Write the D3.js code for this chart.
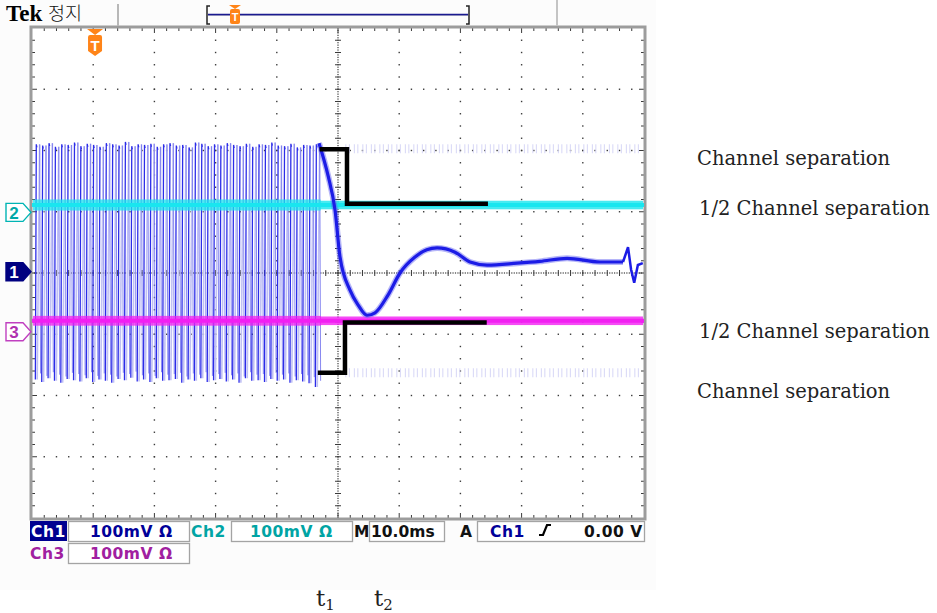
<!DOCTYPE html>
<html><head><meta charset="utf-8">
<script src="https://cdn.jsdelivr.net/npm/d3@7"></script>
<style>
html,body{margin:0;padding:0;background:#fff;}
svg{display:block;}
</style>
</head><body>
<svg id="c" width="937" height="613"></svg>
<script>
// ---------- data (time in ms, amplitude in divisions) ----------
const timeDomain = [-50, 50];          // 10 ms/div, 10 divisions
const voltDomain = [-4, 4];            // 8 divisions
const oscStart = -49.3, oscPeriod = 1.04;   // Ch1 burst before t1
const oscTop = [2.10,2.08,2.12,2.06,2.10,2.09,2.13,2.07,2.11,2.09,2.06,2.12,2.10,2.08,2.14,2.07,2.10,2.09,2.11,2.06,2.10,2.12,2.08,2.09,2.05,2.13,2.11,2.07,2.10,2.08,2.12,2.09,2.07,2.11,2.06,2.10,2.09,2.13,2.08,2.07,2.11,2.05,2.09,2.08,2.10];
const oscBot = [-1.74,-1.78,-1.72,-1.76,-1.79,-1.73,-1.75,-1.77,-1.72,-1.78,-1.74,-1.76,-1.79,-1.73,-1.75,-1.71,-1.77,-1.74,-1.78,-1.72,-1.76,-1.75,-1.73,-1.79,-1.74,-1.76,-1.72,-1.78,-1.75,-1.73,-1.77,-1.74,-1.79,-1.72,-1.76,-1.75,-1.78,-1.73,-1.76,-1.74,-1.79,-1.75,-1.77,-1.80,-1.86];
const ch1Time = [-3.1,-1.6,-0.49,0.33,1.96,3.27,4.74,6.05,8.17,10.13,12.58,14.5,16.18,19.12,21.57,24.35,29.25,33.0,37.42,42.81,46.57,47.39,47.9,48.4,49.0,49.8];
const ch1Val  = [2.12,1.58,1.03,0.26,-0.28,-0.52,-0.69,-0.65,-0.36,0.0,0.26,0.38,0.41,0.34,0.18,0.13,0.16,0.19,0.24,0.18,0.18,0.42,0.05,-0.16,0.13,0.16];
const ch2Level = 1.11, ch2NoiseBefore = 0.09, ch2NoiseAfter = 0.07;
const ch3Level = -0.78, ch3NoiseBefore = 0.08, ch3NoiseAfter = 0.07;
const ghostTop = 2.03, ghostBot = -1.63, ghostRange = [1.2, 49.5];
const sepUpper = [[-3.0,2.02],[1.47,2.02],[1.47,1.13],[24.5,1.13]];
const sepLower = [[-3.3,-1.63],[1.14,-1.63],[1.14,-0.81],[24.3,-0.81]];
const chMarkers = [{n:"2",v:0.99,fill:"#fff",stroke:"#00b4b4",txt:"#00a8a8"},
                   {n:"1",v:0.02,fill:"#000080",stroke:"#000080",txt:"#fff"},
                   {n:"3",v:-0.96,fill:"#fff",stroke:"#c040c0",txt:"#b030b0"}];
const triggerTime = -39.7;
const labels = ["Channel separation","1/2 Channel separation","1/2 Channel separation","Channel separation"];
const labelY = [165, 215, 338, 398];
const labelX = [697, 699, 699, 697];

// ---------- layout ----------
const X0 = 32, X1 = 644, Y0 = 28, Y1 = 518;
const svg = d3.select("#c");
const x = d3.scaleLinear().domain(timeDomain).range([X0, X1]);
const y = d3.scaleLinear().domain(voltDomain).range([Y1, Y0]);
const dw = (X1 - X0) / 10, dh = (Y1 - Y0) / 8;

svg.append("rect").attr("x",0).attr("y",0).attr("width",656).attr("height",590).attr("fill","#fcfcfc");
svg.append("rect").attr("x",X0).attr("y",Y0).attr("width",X1-X0).attr("height",Y1-Y0).attr("fill","#fff");

// ---------- graticule ----------
const g = svg.append("g");
const dotCol = "#3a3a3a";
function dot(px, py, w=1.4, h=1.4){ g.append("rect").attr("x",px-w/2).attr("y",py-h/2).attr("width",w).attr("height",h).attr("fill",dotCol); }
for (let i = 1; i < 10; i++) {
  const px = X0 + i*dw;
  if (i === 5) {
    for (let j = 0; j <= 200; j++) dot(px, Y0 + j*dh/25, 1.2, 1.2);
    for (let j = 1; j < 40; j++) g.append("line").attr("x1",px-3).attr("x2",px+3).attr("y1",Y0+j*dh/5).attr("y2",Y0+j*dh/5).attr("stroke",dotCol).attr("stroke-width",1);
  } else {
    for (let j = 1; j < 40; j++) dot(px, Y0 + j*dh/5);
  }
}
for (let k = 1; k < 8; k++) {
  const py = Y0 + k*dh;
  if (k === 4) {
    for (let j = 0; j <= 250; j++) dot(X0 + j*dw/25, py, 1.2, 1.2);
    for (let j = 1; j < 50; j++) g.append("line").attr("y1",py-3).attr("y2",py+3).attr("x1",X0+j*dw/5).attr("x2",X0+j*dw/5).attr("stroke",dotCol).attr("stroke-width",1);
  } else {
    for (let j = 1; j < 50; j++) dot(X0 + j*dw/5, py);
  }
}
for (let j = 1; j < 50; j++) {
  const px = X0 + j*dw/5, L = (j%5===0)?5:3;
  g.append("line").attr("x1",px).attr("x2",px).attr("y1",Y0).attr("y2",Y0+L).attr("stroke",dotCol);
  g.append("line").attr("x1",px).attr("x2",px).attr("y1",Y1).attr("y2",Y1-L).attr("stroke",dotCol);
}
for (let j = 1; j < 40; j++) {
  const py = Y0 + j*dh/5, L = (j%5===0)?5:3;
  g.append("line").attr("y1",py).attr("y2",py).attr("x1",X0).attr("x2",X0+L).attr("stroke",dotCol);
  g.append("line").attr("y1",py).attr("y2",py).attr("x1",X1).attr("x2",X1-L).attr("stroke",dotCol);
}
svg.append("rect").attr("x",X0-1).attr("y",Y0-1).attr("width",X1-X0+2).attr("height",Y1-Y0+2)
  .attr("fill","none").attr("stroke","#9c9c9c").attr("stroke-width",3);

// ---------- traces ----------
const tr = svg.append("g");
[ghostTop, ghostBot].forEach(v => {
  tr.append("line").attr("x1",x(ghostRange[0])).attr("x2",x(ghostRange[1])).attr("y1",y(v)).attr("y2",y(v))
    .attr("stroke","#d6d6f6").attr("stroke-width",9).attr("stroke-dasharray","1 2.5 1 4");
});
function band(level, nb, na, col) {
  tr.append("rect").attr("x",x(-50)+1).attr("width",x(-3)-x(-50)).attr("y",y(level+nb)).attr("height",y(level-nb)-y(level+nb)).attr("fill",col).attr("opacity",0.75);
  tr.append("rect").attr("x",x(-3)).attr("width",x(50)-x(-3)-1).attr("y",y(level+na)).attr("height",y(level-na)-y(level+na)).attr("fill",col).attr("opacity",0.8);
  tr.append("line").attr("x1",x(-50)).attr("x2",x(50)).attr("y1",y(level)).attr("y2",y(level)).attr("stroke",col).attr("stroke-width",4);
}
oscTop.forEach((tp, i) => {
  const t0 = oscStart + i*oscPeriod;
  const bt = oscBot[i];
  tr.append("path").attr("d", d3.line()([[x(t0+0.15), y(bt)], [x(t0+0.55), y(tp)]]))
    .attr("stroke","#c0c0f4").attr("stroke-width",1.6).attr("fill","none");
  tr.append("path").attr("d", d3.line()([[x(t0-0.15), y(bt)], [x(t0), y(tp)], [x(t0+0.1), y(tp-0.05)]]))
    .attr("stroke","#2c2ce8").attr("stroke-width",1.3).attr("fill","none");
  tr.append("path").attr("d", d3.line()([[x(t0+0.55), y(tp)], [x(t0+0.7), y(bt+0.1)]]))
    .attr("stroke","#7a7aee").attr("stroke-width",0.9).attr("fill","none");
});
band(ch2Level, ch2NoiseBefore, ch2NoiseAfter, "#19e6ef");
band(ch3Level, ch3NoiseBefore, ch3NoiseAfter, "#f21ff2");

const ch1Pts = ch1Time.map((t,i) => [x(t), y(ch1Val[i])]);
const smooth = d3.line().curve(d3.curveMonotoneX);
tr.append("path").attr("d", smooth(ch1Pts.slice(0,21)))
  .attr("stroke","#5a5af0").attr("stroke-width",6).attr("opacity",0.45).attr("fill","none");
tr.append("path").attr("d", smooth(ch1Pts.slice(0,21)))
  .attr("stroke","#1c1ce6").attr("stroke-width",3.2).attr("fill","none").attr("stroke-linejoin","round");
tr.append("path").attr("d", d3.line()(ch1Pts.slice(20)))
  .attr("stroke","#1c1ce6").attr("stroke-width",2.5).attr("fill","none");

[sepUpper, sepLower].forEach(s => {
  tr.append("path").attr("d", d3.line()(s.map(p => [x(p[0]), y(p[1])])))
    .attr("stroke","#000").attr("stroke-width",4.5).attr("fill","none").attr("stroke-linejoin","miter");
});

// ---------- channel markers ----------
chMarkers.forEach(m => {
  const cy = y(m.v);
  const mg = svg.append("g").attr("transform",`translate(6,${cy})`);
  mg.append("path").attr("d","M0,-9 L17,-9 L25,0 L17,9 L0,9 Z").attr("fill",m.fill).attr("stroke",m.stroke).attr("stroke-width",1.4);
  mg.append("text").attr("x",8).attr("y",6.5).attr("text-anchor","middle").attr("font-family","Liberation Sans, Arial, sans-serif")
    .attr("font-weight","bold").attr("font-size",17).attr("fill",m.txt).text(m.n);
});

// ---------- trigger marker ----------
const tx = x(triggerTime);
svg.append("path").attr("d",`M${tx-8},29 L${tx+8},29 L${tx},35 Z`).attr("fill","#ff8418");
svg.append("path").attr("d",`M${tx-7},37 Q${tx-7},35 ${tx-5},35 L${tx+5},35 Q${tx+7},35 ${tx+7},37 L${tx+7},51 L${tx},56 L${tx-7},51 Z`).attr("fill","#ff8418");
svg.append("text").attr("x",tx).attr("y",51).attr("text-anchor","middle").attr("font-family","Liberation Sans, Arial, sans-serif")
  .attr("font-weight","bold").attr("font-size",15).attr("fill","#fff").text("T");

// ---------- header ----------
svg.append("text").attr("x",6).attr("y",21).attr("font-family","Liberation Serif, serif").attr("font-weight","bold")
  .attr("font-size",23).attr("fill","#000").text("Tek");
svg.append("text").attr("x",48).attr("y",20).attr("font-family","Noto Sans CJK KR, sans-serif").attr("font-weight",300)
  .attr("font-size",18.5).attr("fill","#111").text("정지");
svg.append("line").attr("x1",118).attr("x2",118).attr("y1",4).attr("y2",26).attr("stroke","#b8b8b8").attr("stroke-width",2);
svg.append("line").attr("x1",557).attr("x2",557).attr("y1",0).attr("y2",26).attr("stroke","#c4c4c4").attr("stroke-width",2);
svg.append("path").attr("d","M210,6 L207,6 L207,24 L210,24").attr("fill","none").attr("stroke","#222").attr("stroke-width",1.5);
svg.append("path").attr("d","M466,6 L469,6 L469,24 L466,24").attr("fill","none").attr("stroke","#222").attr("stroke-width",1.5);
svg.append("line").attr("x1",208).attr("x2",468).attr("y1",15.5).attr("y2",15.5).attr("stroke","#b0b0c8").attr("stroke-width",1);
svg.append("line").attr("x1",208).attr("x2",468).attr("y1",14.5).attr("y2",14.5).attr("stroke","#1a1a90").attr("stroke-width",1.3);
svg.append("path").attr("d","M229,5 L241,5 L235,9 Z").attr("fill","#ff8418");
svg.append("rect").attr("x",230).attr("y",9).attr("width",10).attr("height",15).attr("rx",2).attr("fill","#ff8418");
svg.append("text").attr("x",235).attr("y",21).attr("text-anchor","middle").attr("font-family","Liberation Sans, Arial, sans-serif")
  .attr("font-weight","bold").attr("font-size",11).attr("fill","#fff").text("T");

// ---------- status bar ----------
const sf = "DejaVu Sans, Verdana, sans-serif";
const sb = svg.append("g").attr("font-family",sf).attr("font-size",15.5).attr("font-weight","bold").attr("letter-spacing",0.5);
function box(bx, by, bw){ sb.append("rect").attr("x",bx).attr("y",by).attr("width",bw).attr("height",20).attr("fill","#fff").attr("stroke","#a4a4a4").attr("stroke-width",1.3); }
sb.append("rect").attr("x",30).attr("y",521).attr("width",37).attr("height",20).attr("fill","#000090");
sb.append("text").attr("x",31).attr("y",537).attr("fill","#fff").text("Ch1");
box(68.5,521.5,121); sb.append("text").attr("x",90).attr("y",537).attr("fill","#000099").text("100mV Ω");
sb.append("text").attr("x",191).attr("y",537).attr("fill","#00a4a4").text("Ch2");
box(231.5,521.5,121); sb.append("text").attr("x",250).attr("y",537).attr("fill","#00a4a4").text("100mV Ω");
sb.append("text").attr("x",354).attr("y",537).attr("fill","#111").text("M");
box(369.5,521.5,75); sb.append("text").attr("x",371).attr("y",537).attr("fill","#111").attr("letter-spacing",0).text("10.0ms");
sb.append("text").attr("x",460).attr("y",537).attr("fill","#111").text("A");
box(477.5,521.5,167); sb.append("text").attr("x",490).attr("y",537).attr("fill","#000099").text("Ch1");
sb.append("path").attr("d","M539,535 L543,535 L547,525 L551,525").attr("fill","none").attr("stroke","#000").attr("stroke-width",2.2);
sb.append("text").attr("x",584).attr("y",537).attr("fill","#111").text("0.00 V");
sb.append("text").attr("x",30).attr("y",559).attr("fill","#a020a0").text("Ch3");
box(68.5,543.5,121); sb.append("text").attr("x",90).attr("y",559).attr("fill","#a020a0").text("100mV Ω");

// ---------- annotations ----------
labels.forEach((s,i) => {
  svg.append("text").attr("x",labelX[i]).attr("y",labelY[i]).attr("font-family","DejaVu Serif, serif")
    .attr("font-size",19.5).attr("fill","#222").text(s);
});
[["t","1",316],["t","2",374]].forEach(d => {
  const t = svg.append("text").attr("x",d[2]).attr("y",606).attr("font-family","DejaVu Serif, serif").attr("font-size",23).attr("fill","#222");
  t.append("tspan").text(d[0]);
  t.append("tspan").attr("font-size",15).attr("dy",4).text(d[1]);
});
</script>
</body></html>
